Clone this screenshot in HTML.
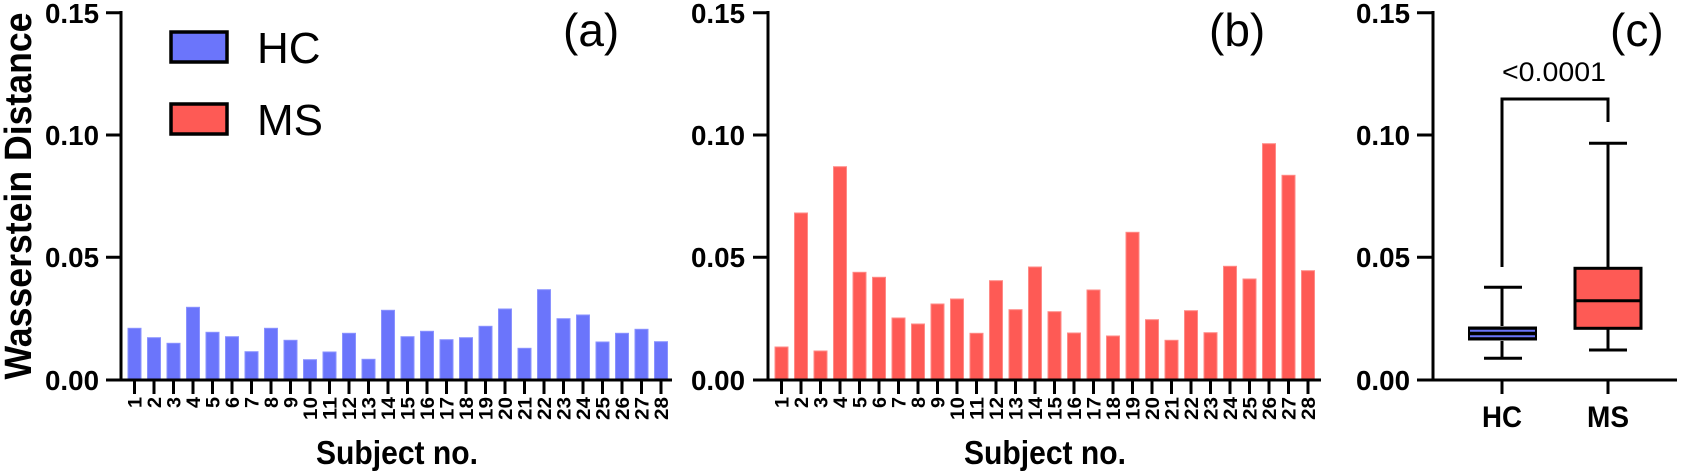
<!DOCTYPE html>
<html><head><meta charset="utf-8"><style>
html,body{margin:0;padding:0;background:#fff;}
svg{display:block;}
text{font-family:"Liberation Sans",Arial,sans-serif;}
</style></head><body>
<svg width="1681" height="475" viewBox="0 0 1681 475" xmlns="http://www.w3.org/2000/svg">
<g id="a">
<text transform="translate(31,196) rotate(-90)" text-anchor="middle" font-size="38" font-weight="bold" textLength="367" lengthAdjust="spacingAndGlyphs">Wasserstein  Distance</text>
<g fill="#6b75fb" stroke="#8a92ff" stroke-width="1">
<rect x="128" y="328.3" width="13" height="51.7"/>
<rect x="147.5" y="337.7" width="13" height="42.3"/>
<rect x="167" y="343.3" width="13" height="36.7"/>
<rect x="186.5" y="307.3" width="13" height="72.7"/>
<rect x="206" y="332.3" width="13" height="47.7"/>
<rect x="225.5" y="336.7" width="13" height="43.3"/>
<rect x="245" y="351.7" width="13" height="28.3"/>
<rect x="264.5" y="328.3" width="13" height="51.7"/>
<rect x="284" y="340.3" width="13" height="39.7"/>
<rect x="303.5" y="359.7" width="13" height="20.3"/>
<rect x="323" y="352" width="13" height="28"/>
<rect x="342.5" y="333.3" width="13" height="46.7"/>
<rect x="362" y="359.3" width="13" height="20.7"/>
<rect x="381.5" y="310.3" width="13" height="69.7"/>
<rect x="401" y="336.7" width="13" height="43.3"/>
<rect x="420.5" y="331.3" width="13" height="48.7"/>
<rect x="440" y="339.7" width="13" height="40.3"/>
<rect x="459.5" y="337.7" width="13" height="42.3"/>
<rect x="479" y="326.3" width="13" height="53.7"/>
<rect x="498.5" y="309" width="13" height="71"/>
<rect x="518" y="348.3" width="13" height="31.7"/>
<rect x="537.5" y="289.7" width="13" height="90.3"/>
<rect x="557" y="318.7" width="13" height="61.3"/>
<rect x="576.5" y="315" width="13" height="65"/>
<rect x="596" y="342" width="13" height="38"/>
<rect x="615.5" y="333.3" width="13" height="46.7"/>
<rect x="635" y="329.3" width="13" height="50.7"/>
<rect x="654.5" y="341.7" width="13" height="38.3"/>
</g>
<g stroke="#000" stroke-width="3" fill="none">
<path d="M121,11 V380 H672"/>
<path d="M106,12.7H121 M106,135H121 M106,257.3H121 M106,380H121"/>
</g>
<g font-size="28" font-weight="bold" text-anchor="end">
<text x="99" y="23" textLength="54" lengthAdjust="spacingAndGlyphs">0.15</text><text x="99" y="145" textLength="54" lengthAdjust="spacingAndGlyphs">0.10</text><text x="99" y="267" textLength="54" lengthAdjust="spacingAndGlyphs">0.05</text><text x="99" y="390" textLength="54" lengthAdjust="spacingAndGlyphs">0.00</text>
</g>
<rect x="171" y="32" width="56" height="30" fill="#6b75fb" stroke="#000" stroke-width="3.5"/>
<rect x="171" y="104" width="56" height="30" fill="#fe5a55" stroke="#000" stroke-width="3.5"/>
<text x="257" y="63" font-size="44">HC</text>
<text x="257" y="135" font-size="44">MS</text>
<text x="563" y="46" font-size="46">(a)</text>
<text x="397" y="464" font-size="33" font-weight="bold" text-anchor="middle" textLength="162" lengthAdjust="spacingAndGlyphs">Subject no.</text>
</g>

<g id="b">
<g fill="#fe5a55" stroke="#ff8a86" stroke-width="1">
<rect x="775" y="347" width="13" height="33"/>
<rect x="794.5" y="213" width="13" height="167"/>
<rect x="814" y="351" width="13" height="29"/>
<rect x="833.5" y="166.7" width="13" height="213.3"/>
<rect x="853" y="272.3" width="13" height="107.7"/>
<rect x="872.5" y="277.3" width="13" height="102.7"/>
<rect x="892" y="318" width="13" height="62"/>
<rect x="911.5" y="324" width="13" height="56"/>
<rect x="931" y="304" width="13" height="76"/>
<rect x="950.5" y="299" width="13" height="81"/>
<rect x="970" y="333.3" width="13" height="46.7"/>
<rect x="989.5" y="280.7" width="13" height="99.3"/>
<rect x="1009" y="309.7" width="13" height="70.3"/>
<rect x="1028.5" y="267" width="13" height="113"/>
<rect x="1048" y="311.7" width="13" height="68.3"/>
<rect x="1067.5" y="333" width="13" height="47"/>
<rect x="1087" y="290" width="13" height="90"/>
<rect x="1106.5" y="336" width="13" height="44"/>
<rect x="1126" y="232.3" width="13" height="147.7"/>
<rect x="1145.5" y="319.7" width="13" height="60.3"/>
<rect x="1165" y="340.3" width="13" height="39.7"/>
<rect x="1184.5" y="310.7" width="13" height="69.3"/>
<rect x="1204" y="332.7" width="13" height="47.3"/>
<rect x="1223.5" y="266.3" width="13" height="113.7"/>
<rect x="1243" y="279" width="13" height="101"/>
<rect x="1262.5" y="143.7" width="13" height="236.3"/>
<rect x="1282" y="175.3" width="13" height="204.7"/>
<rect x="1301.5" y="270.7" width="13" height="109.3"/>
</g>
<g stroke="#000" stroke-width="3" fill="none">
<path d="M768,11 V380 H1321"/>
<path d="M753,12.7H768 M753,135H768 M753,257.3H768 M753,380H768"/>
</g>
<g font-size="28" font-weight="bold" text-anchor="end">
<text x="745" y="23" textLength="54" lengthAdjust="spacingAndGlyphs">0.15</text><text x="745" y="145" textLength="54" lengthAdjust="spacingAndGlyphs">0.10</text><text x="745" y="267" textLength="54" lengthAdjust="spacingAndGlyphs">0.05</text><text x="745" y="390" textLength="54" lengthAdjust="spacingAndGlyphs">0.00</text>
</g>
<text x="1209" y="46" font-size="46">(b)</text>
<text x="1045" y="464" font-size="33" font-weight="bold" text-anchor="middle" textLength="162" lengthAdjust="spacingAndGlyphs">Subject no.</text>
</g>

<script>
(function(){
var ns="http://www.w3.org/2000/svg",svg=document.querySelector("svg");
function add(x0){
for(var i=0;i<28;i++){
var cx=x0+19.5*i+6.5;
var l=document.createElementNS(ns,"line");
l.setAttribute("x1",cx);l.setAttribute("x2",cx);l.setAttribute("y1",380);l.setAttribute("y2",394);
l.setAttribute("stroke","#000");l.setAttribute("stroke-width","3");svg.appendChild(l);
var t=document.createElementNS(ns,"text");
t.setAttribute("transform","translate("+(cx+7)+",397) rotate(-90)");
t.setAttribute("text-anchor","end");t.setAttribute("font-size","19");t.setAttribute("font-weight","bold");
t.setAttribute("textLength",i<9?"11":"23");t.setAttribute("lengthAdjust","spacingAndGlyphs");
t.textContent=String(i+1);svg.appendChild(t);
}}
add(128);add(775);
})();
</script>

<g id="c">
<g stroke="#000" stroke-width="3" fill="none">
<path d="M1433,11 V380 H1677"/>
<path d="M1417,12.7H1433 M1417,135H1433 M1417,257.3H1433 M1417,380H1433"/>
<path d="M1502,380V394 M1608,380V394"/>
<path d="M1502,267 V99 H1608 V122"/>
<path d="M1502,287.3V326 M1484,287.3H1522 M1502,341V358.3 M1484,358.3H1522"/>
<path d="M1608,143.3V268.3 M1589,143.3H1627 M1608,328.3V350 M1589,350H1627"/>
</g>
<rect x="1468" y="326.5" width="69" height="14" fill="#000"/>
<path d="M1470,330.7H1535 M1470,336.3H1535" stroke="#6b75fb" stroke-width="2"/>
<rect x="1575" y="268.3" width="66" height="60" fill="#fe5a55" stroke="#000" stroke-width="3"/>
<path d="M1575,300.7H1641" stroke="#000" stroke-width="3"/>
<g font-size="28" font-weight="bold" text-anchor="end">
<text x="1410" y="23" textLength="54" lengthAdjust="spacingAndGlyphs">0.15</text><text x="1410" y="145" textLength="54" lengthAdjust="spacingAndGlyphs">0.10</text><text x="1410" y="267" textLength="54" lengthAdjust="spacingAndGlyphs">0.05</text><text x="1410" y="390" textLength="54" lengthAdjust="spacingAndGlyphs">0.00</text>
</g>
<text x="1502" y="81" font-size="27" textLength="104" lengthAdjust="spacingAndGlyphs">&lt;0.0001</text>
<text x="1610" y="46" font-size="46">(c)</text>
<text x="1502" y="427" font-size="30" font-weight="bold" text-anchor="middle" textLength="40" lengthAdjust="spacingAndGlyphs">HC</text>
<text x="1608" y="427" font-size="30" font-weight="bold" text-anchor="middle" textLength="42" lengthAdjust="spacingAndGlyphs">MS</text>
</g>
</svg>
</body></html>
